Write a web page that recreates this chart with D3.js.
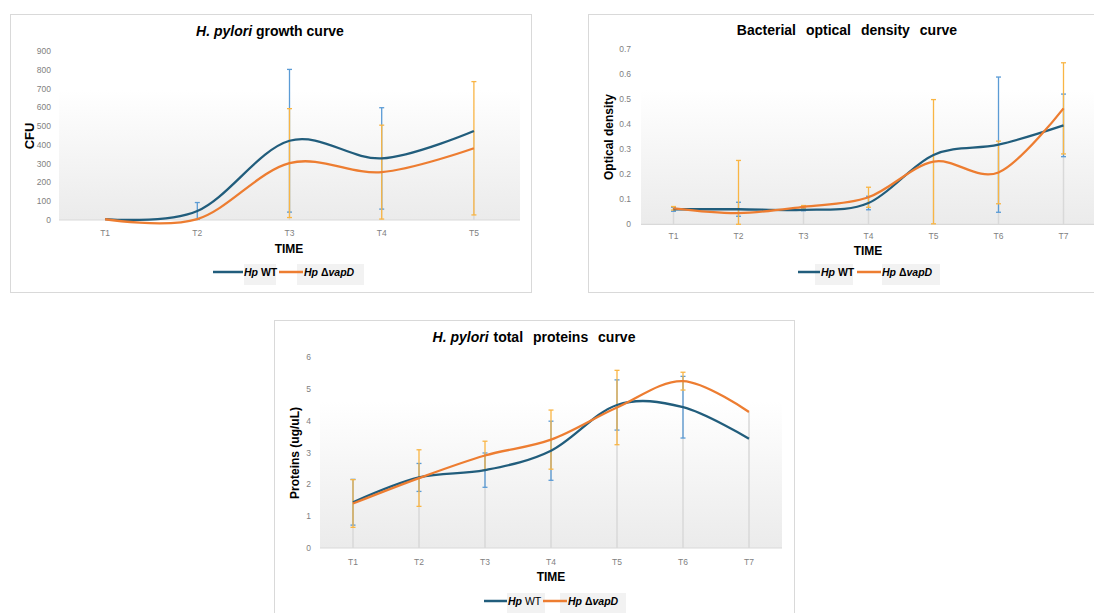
<!DOCTYPE html>
<html>
<head>
<meta charset="utf-8">
<title>H. pylori curves</title>
<script src="https://d3js.org/d3.v7.min.js"></script>
<style>
  body { margin: 0; background: #fff; }
  svg { display: block; font-family: "Liberation Sans", Arial, sans-serif; }
  .tick-label { fill: #7f7f7f; font-size: 8.5px; }
  .axis-title { fill: #000; font-weight: bold; }
</style>
</head>
<body>
<div id="chart"></div>
<script>
// ---- data ----
var growthTimes = ["T1", "T2", "T3", "T4", "T5"];
var growthWT = [5, 48, 422, 328, 474];
var growthWTErr = [0, 45, 380, 270, 0];
var growthVapD = [4, 5, 303, 255, 382];
var growthVapDErr = [0, 0, 290, 250, 355];
var growthTicks = [0, 100, 200, 300, 400, 500, 600, 700, 800, 900];

var odTimes = ["T1", "T2", "T3", "T4", "T5", "T6", "T7"];
var odWT = [0.06, 0.06, 0.058, 0.085, 0.277, 0.318, 0.395];
var odWTErr = [0.008, 0.028, 0.004, 0.027, 0, 0.27, 0.125];
var odVapD = [0.064, 0.045, 0.07, 0.108, 0.25, 0.207, 0.463];
var odVapDErr = [0.007, 0.21, 0.005, 0.04, 0.248, 0.125, 0.182];
var odTicks = [0, 0.1, 0.2, 0.3, 0.4, 0.5, 0.6, 0.7];

var protTimes = ["T1", "T2", "T3", "T4", "T5", "T6", "T7"];
var protWT = [1.44, 2.22, 2.45, 3.06, 4.5, 4.43, 3.44];
var protWTErr = [0.72, 0.44, 0.54, 0.93, 0.79, 0.97, 0];
var protVapD = [1.4, 2.2, 2.91, 3.41, 4.42, 5.25, 4.28];
var protVapDErr = [0.75, 0.89, 0.45, 0.93, 1.17, 0.28, 0];
var protTicks = [0, 1, 2, 3, 4, 5, 6];

var wtColor = "#215d7c", vapDColor = "#ed7d31";
var wtErrColor = "#5b9bd5", vapDErrColor = "#f9b544";

var svg = d3.select("#chart").append("svg")
  .attr("width", 1094).attr("height", 613);

var defs = svg.append("defs");
var grad = defs.append("linearGradient").attr("id", "plotbg")
  .attr("x1", 0).attr("y1", 0).attr("x2", 0).attr("y2", 1);
grad.append("stop").attr("offset", "0%").attr("stop-color", "#ffffff");
grad.append("stop").attr("offset", "100%").attr("stop-color", "#ebebeb");

function drawPanel(p) {
  var g = svg.append("g");

  // frame
  g.append("rect")
    .attr("x", p.box[0] + 0.5).attr("y", p.box[1] + 0.5)
    .attr("width", p.box[2]).attr("height", p.box[3])
    .attr("fill", "#fff").attr("stroke", "#d9d9d9");

  var x = d3.scaleBand().domain(p.cats).range([p.x0, p.x1]);
  var y = d3.scaleLinear().domain([0, p.ymax]).range([p.yBottom, p.yTop]);
  var cx = function (c) { return x(c) + x.bandwidth() / 2; };

  // plot-area background
  g.append("rect")
    .attr("x", p.x0).attr("y", p.bgTop)
    .attr("width", p.x1 - p.x0).attr("height", p.yBottom - p.bgTop)
    .attr("fill", "url(#plotbg)");

  // drop lines
  g.selectAll(".drop").data(p.cats).enter().append("line")
    .attr("x1", cx).attr("x2", cx)
    .attr("y1", function (c, i) { return y(Math.max(p.wt[i], p.vapd[i])); })
    .attr("y2", p.yBottom)
    .attr("stroke", "#d9d9d9").attr("stroke-width", 1.5);

  // x axis line
  g.append("line")
    .attr("x1", p.x0).attr("x2", p.x1)
    .attr("y1", p.yBottom).attr("y2", p.yBottom)
    .attr("stroke", "#d9d9d9").attr("stroke-width", 1.2);

  // y tick labels
  g.selectAll(".ytick").data(p.ticks).enter().append("text")
    .attr("class", "tick-label")
    .attr("x", p.x0 - p.tickGap).attr("y", function (d) { return y(d); })
    .attr("dy", "0.35em").attr("text-anchor", "end")
    .text(function (d) { return d3.format(p.fmt)(d); });

  // x tick labels
  g.selectAll(".xtick").data(p.cats).enter().append("text")
    .attr("class", "tick-label")
    .attr("x", cx).attr("y", p.xLabelY)
    .attr("text-anchor", "middle")
    .text(function (d) { return d; });

  // axis titles
  g.append("text").attr("class", "axis-title")
    .attr("x", p.timeX).attr("y", p.timeY)
    .attr("text-anchor", "middle").style("font-size", "12px")
    .text("TIME");
  g.append("text").attr("class", "axis-title")
    .attr("transform", "translate(" + p.yTitleX + "," + p.yTitleY + ") rotate(-90)")
    .attr("text-anchor", "middle").style("font-size", p.yTitleSize + "px")
    .text(p.yTitle);

  // title
  var t = g.append("text").attr("x", p.titleX).attr("y", p.titleY)
    .attr("text-anchor", "middle")
    .style("font-size", "14px").style("font-weight", "bold");
  p.title.forEach(function (part) {
    t.append("tspan").style("font-style", part.it ? "italic" : "normal")
      .style("word-spacing", (part.ws || 0) + "px").text(part.s);
  });

  function errorBars(vals, errs, color) {
    var eg = g.append("g").attr("stroke", color).attr("stroke-width", 1.3);
    p.cats.forEach(function (c, i) {
      if (!errs[i]) return;
      var lo = Math.max(0, vals[i] - errs[i]), hi = Math.min(p.ymax, vals[i] + errs[i]);
      var xc = cx(c);
      eg.append("line").attr("x1", xc).attr("x2", xc).attr("y1", y(lo)).attr("y2", y(hi));
      eg.append("line").attr("x1", xc - 2.5).attr("x2", xc + 2.5).attr("y1", y(lo)).attr("y2", y(lo));
      eg.append("line").attr("x1", xc - 2.5).attr("x2", xc + 2.5).attr("y1", y(hi)).attr("y2", y(hi));
    });
  }

  var line = d3.line()
    .x(function (d) { return cx(d.c); })
    .y(function (d) { return y(d.v); })
    .curve(d3.curveCardinal.tension(0));

  function series(vals) {
    return p.cats.map(function (c, i) { return { c: c, v: vals[i] }; });
  }

  errorBars(p.wt, p.wtErr, wtErrColor);
  errorBars(p.vapd, p.vapdErr, vapDErrColor);

  g.append("path").datum(series(p.wt)).attr("d", line)
    .attr("fill", "none").attr("stroke", wtColor).attr("stroke-width", 2.3);
  g.append("path").datum(series(p.vapd)).attr("d", line)
    .attr("fill", "none").attr("stroke", vapDColor).attr("stroke-width", 2.3);

  // legend
  var L = p.legend;
  g.append("rect").attr("x", L.box1[0]).attr("y", L.y - 12)
    .attr("width", L.box1[1]).attr("height", 21).attr("fill", "#f2f2f2");
  g.append("rect").attr("x", L.box2[0]).attr("y", L.y - 12)
    .attr("width", L.box2[1]).attr("height", 21).attr("fill", "#f2f2f2");
  g.append("line").attr("x1", L.line1[0]).attr("x2", L.line1[1])
    .attr("y1", L.y - 4).attr("y2", L.y - 4)
    .attr("stroke", wtColor).attr("stroke-width", 2.5);
  g.append("line").attr("x1", L.line2[0]).attr("x2", L.line2[1])
    .attr("y1", L.y - 4).attr("y2", L.y - 4)
    .attr("stroke", vapDColor).attr("stroke-width", 2.5);
  var t1 = g.append("text").attr("x", L.line1[1] + 1).attr("y", L.y)
    .style("font-size", "10.5px").style("font-weight", "bold");
  t1.append("tspan").style("font-style", "italic").text("Hp");
  t1.append("tspan").style("font-weight", L.wtBold ? "bold" : "normal").text(" WT");
  var t2 = g.append("text").attr("x", L.line2[1] + 1).attr("y", L.y)
    .style("font-size", "10.5px").style("font-weight", "bold");
  t2.append("tspan").style("font-style", "italic").text("Hp ");
  t2.append("tspan").text("Δ");
  t2.append("tspan").style("font-style", "italic").text("vapD");
}

drawPanel({
  box: [10, 14, 521, 278],
  cats: growthTimes, wt: growthWT, wtErr: growthWTErr, vapd: growthVapD, vapdErr: growthVapDErr,
  ticks: growthTicks, ymax: 900, fmt: "d", tickGap: 8,
  x0: 59, x1: 520, yTop: 51, yBottom: 220, bgTop: 90,
  xLabelY: 236, timeX: 289, timeY: 253,
  yTitle: "CFU", yTitleX: 34, yTitleY: 136, yTitleSize: 13,
  title: [{ s: "H. pylori", it: true }, { s: " growth curve", it: false }],
  titleX: 270, titleY: 36,
  legend: { y: 276, line1: [213, 243], line2: [279, 303], box1: [244, 32], box2: [297, 67], wtBold: true }
});

drawPanel({
  box: [588, 14, 520, 278],
  cats: odTimes, wt: odWT, wtErr: odWTErr, vapd: odVapD, vapdErr: odVapDErr,
  ticks: odTicks, ymax: 0.7, fmt: "", tickGap: 10,
  x0: 641, x1: 1096, yTop: 49, yBottom: 224.3, bgTop: 90,
  xLabelY: 239, timeX: 868, timeY: 255,
  yTitle: "Optical density", yTitleX: 613, yTitleY: 137, yTitleSize: 12,
  title: [{ s: "Bacterial optical density curve", it: false, ws: 6 }],
  titleX: 847, titleY: 35,
  legend: { y: 276, line1: [798, 820], line2: [857, 881], box1: [815, 38], box2: [882, 58], wtBold: true }
});

drawPanel({
  box: [274, 320, 520, 300],
  cats: protTimes, wt: protWT, wtErr: protWTErr, vapd: protVapD, vapdErr: protVapDErr,
  ticks: protTicks, ymax: 6, fmt: "d", tickGap: 9,
  x0: 320, x1: 782, yTop: 357.3, yBottom: 548, bgTop: 401,
  xLabelY: 565, timeX: 551, timeY: 581,
  yTitle: "Proteins (ug/uL)", yTitleX: 299, yTitleY: 453, yTitleSize: 12,
  title: [{ s: "H. pylori", it: true }, { s: " total", it: false, ws: 1 }, { s: " proteins curve", it: false, ws: 6 }],
  titleX: 534, titleY: 342,
  legend: { y: 605, line1: [484, 507], line2: [543, 567], box1: [507, 38], box2: [560, 66], wtBold: false }
});
</script>
</body>
</html>
